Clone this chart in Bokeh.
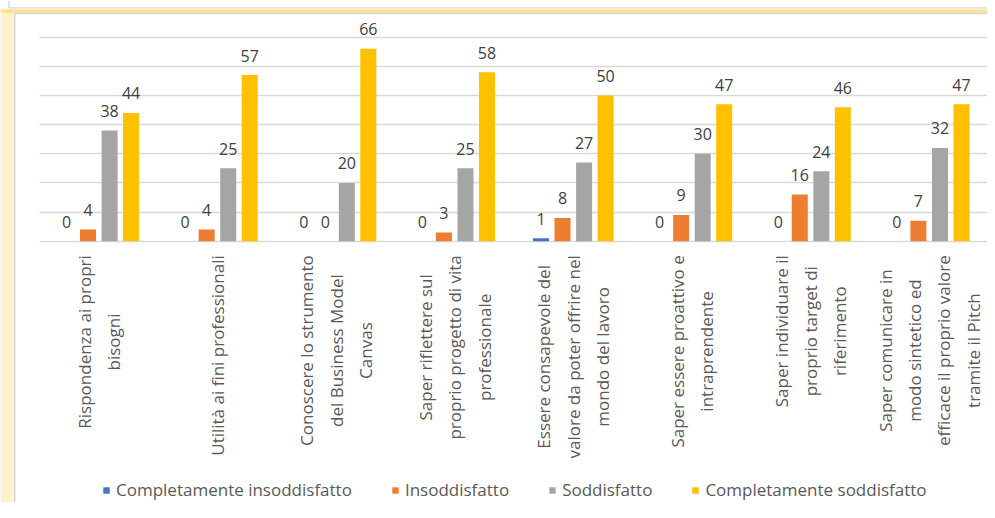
import numpy as np
from bokeh.plotting import figure
from bokeh.models import (ColumnDataSource, Range1d, Grid, FixedTicker, LabelSet,
                          Legend, LegendItem)
from bokeh.core.properties import value
from bokeh.embed import file_html
from bokeh.resources import INLINE

# ---------------- data ----------------
categories = [
    "Rispondenza ai propri\nbisogni",
    "Utilità ai fini professionali",
    "Conoscere lo strumento\ndel Business Model\nCanvas",
    "Saper riflettere sul\nproprio progetto di vita\nprofessionale",
    "Essere consapevole del\nvalore da poter offrire nel\nmondo del lavoro",
    "Saper essere proattivo e\nintraprendente",
    "Saper individuare il\nproprio target di\nriferimento",
    "Saper comunicare in\nmodo sintetico ed\nefficace il proprio valore\ntramite il Pitch",
]
series_names = ["Completamente insoddisfatto", "Insoddisfatto", "Soddisfatto",
                "Completamente soddisfatto"]
completamente_insoddisfatto = [0, 0, 0, 0, 1, 0, 0, 0]
insoddisfatto = [4, 4, 0, 3, 8, 9, 16, 7]
soddisfatto = [38, 25, 20, 25, 27, 30, 24, 32]
completamente_soddisfatto = [44, 57, 66, 58, 50, 47, 46, 47]
y_ticks = [0, 10, 20, 30, 40, 50, 60, 70]

series_values = [completamente_insoddisfatto, insoddisfatto, soddisfatto,
                 completamente_soddisfatto]
colors = ["#4472C4", "#ED7D31", "#A5A5A5", "#FFC000"]
offsets = [-0.272, -0.091, 0.091, 0.272]
bar_width = 0.135

FONT = "Open Sans"

# ---------------- geometry ----------------
W, H = 987, 502
X0_PX, X1_PX = 39.0, 988.0      # plot area left/right (canvas px)
Y0_PX, YT_PX = 240.7, 36.7      # value 0 and top tick (canvas px)
n = len(categories)
x_scale = (X1_PX - X0_PX) / n
y_scale = (Y0_PX - YT_PX) / y_ticks[-1]
x_range = Range1d(-X0_PX / x_scale, (W - X0_PX) / x_scale)
y_range = Range1d(-(H - Y0_PX) / y_scale, Y0_PX / y_scale)


def dx(px):
    return x_range.start + px / x_scale


def dy(py):
    return y_range.end - py / y_scale


p = figure(width=W, height=H, x_range=x_range, y_range=y_range,
           output_backend="svg", toolbar_location=None,
           x_axis_location=None, y_axis_location=None,
           min_border=0, min_border_left=0, min_border_right=0,
           min_border_top=0, min_border_bottom=0,
           outline_line_color=None, background_fill_color="white",
           border_fill_color="white")
p.grid.visible = False

# window decorations (spreadsheet frame around the chart)
p.segment(x0=dx(8.5), x1=dx(W), y0=dy(7.3), y1=dy(7.3), line_color="#D4D4D4",
          line_width=1.3)
p.segment(x0=dx(8.5), x1=dx(8.5), y0=dy(0), y1=dy(7.3), line_color="#D4D4D4",
          line_width=1.3)
p.quad(left=dx(0), right=dx(13.5), top=dy(9), bottom=dy(H),
       fill_color="#FFF2CC", line_color=None)
p.quad(left=dx(0), right=dx(W), top=dy(9), bottom=dy(12.2),
       fill_color="#FFE082", line_color=None)
p.segment(x0=dx(13.5), x1=dx(W), y0=dy(13), y1=dy(13), line_color="#D6D6D6",
          line_width=1.5)
p.segment(x0=dx(14.3), x1=dx(14.3), y0=dy(13), y1=dy(H), line_color="#D6D6D6",
          line_width=1.5)

grid = Grid(dimension=1, ticker=FixedTicker(ticks=y_ticks), cross_bounds=(0, n),
            grid_line_color="#D9D9D9", grid_line_width=1.3)
p.add_layout(grid)

idx = np.arange(n) + 0.5
renderers = []
for name, vals, col, off in zip(series_names, series_values, colors, offsets):
    src = ColumnDataSource(dict(x=idx + off, top=vals,
                                txt=[str(v) for v in vals]))
    r = p.vbar(x="x", top="top", width=bar_width, bottom=0, source=src,
               fill_color=col, line_color=None)
    renderers.append(r)
    p.add_layout(LabelSet(x="x", y="top", text="txt", source=src,
                          y_offset=13.5, text_align="center",
                          text_baseline="alphabetic",
                          text_font=value(FONT), text_font_size="16px",
                          text_color="#404040"))

# category labels (rotated, multi-line)
cat_src = ColumnDataSource(dict(x=idx, y=np.zeros(n), t=categories))
p.text(x="x", y="y", text="t", source=cat_src, angle=np.pi / 2,
       y_offset=14, anchor="center_right", text_align="center",
       text_font=value(FONT), text_font_size="17px", text_color="#595959",
       text_line_height=1.28)

legend = Legend(items=[LegendItem(label=nm, renderers=[r])
                       for nm, r in zip(series_names, renderers)],
                orientation="horizontal", location=(102, 1),
                glyph_width=8, glyph_height=8, label_standoff=6, spacing=39,
                padding=0, margin=0, border_line_color=None,
                background_fill_alpha=0, label_text_font=FONT,
                label_text_font_size="17px", label_text_color="#595959",
                label_height=20)
p.add_layout(legend)

open("out.html", "w").write(file_html(p, INLINE))
